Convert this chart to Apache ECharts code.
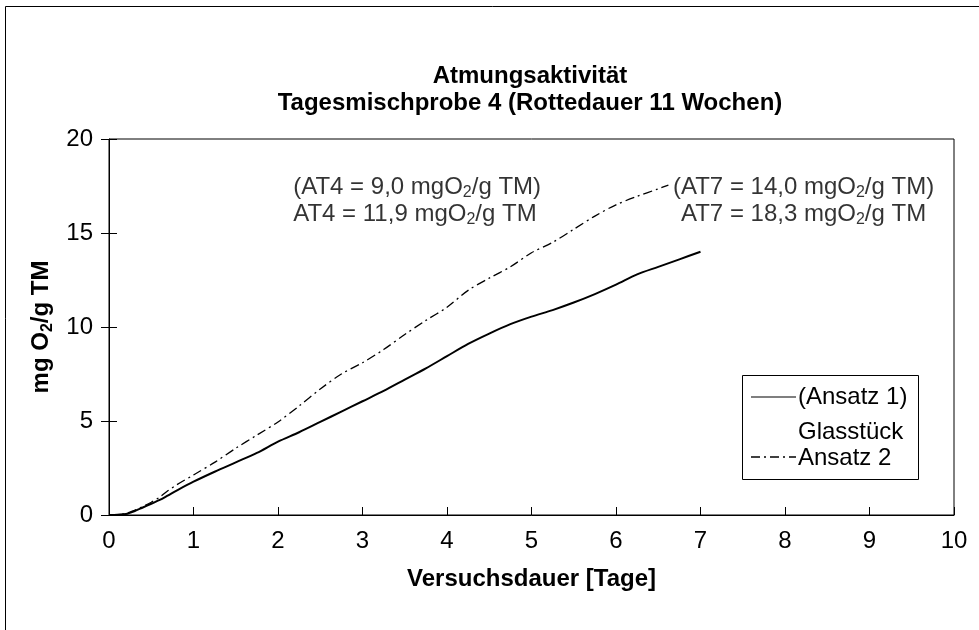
<!DOCTYPE html>
<html><head><meta charset="utf-8">
<script src="https://cdn.jsdelivr.net/npm/echarts@6/dist/echarts.min.js"></script>
<style>html,body{margin:0;padding:0;background:#fff}#c{width:979px;height:630px}</style>
</head><body><div id="c"></div>
<script>
const titleLines = ['Atmungsaktivität', 'Tagesmischprobe 4 (Rottedauer 11 Wochen)'];
const xTicks = [0, 1, 2, 3, 4, 5, 6, 7, 8, 9, 10];
const yTicks = [0, 5, 10, 15, 20];
const seriesNames = ['(Ansatz 1)\nGlasstück', 'Ansatz 2'];
const ansatz1X = [0,0.1,0.2,0.3,0.4,0.5,0.6,0.7,0.8,1.0,1.25,1.5,1.75,2.0,2.25,2.5,2.75,3.0,3.25,3.5,3.75,4.0,4.25,4.5,4.75,5.0,5.25,5.5,5.75,6.0,6.25,6.5,6.75,7.0];
const ansatz1Y = [0,0.02,0.05,0.2,0.4,0.6,0.8,1.05,1.3,1.77,2.3,2.8,3.3,3.9,4.4,4.95,5.5,6.05,6.6,7.2,7.8,8.45,9.1,9.65,10.15,10.55,10.9,11.3,11.75,12.25,12.8,13.2,13.6,14.0];
const ansatz2X = [0,0.1,0.2,0.3,0.4,0.5,0.6,0.7,0.8,1.0,1.25,1.5,1.75,2.0,2.25,2.5,2.75,3.0,3.25,3.5,3.75,4.0,4.25,4.5,4.75,5.0,5.25,5.5,5.75,6.0,6.25,6.5,6.62];
const ansatz2Y = [0,0.02,0.08,0.25,0.45,0.68,0.95,1.3,1.6,2.13,2.8,3.55,4.25,4.95,5.8,6.7,7.5,8.1,8.8,9.6,10.35,11.05,11.95,12.6,13.2,13.95,14.5,15.2,15.9,16.5,16.95,17.35,17.55];
const annotations = [
  {x: 2.18, y: 16.73, lines: [['(AT4 = 9,0 mgO', '2', '/g TM)'], ['AT4 = 11,9 mgO', '2', '/g TM']], align: 'left'},
  {x: 8.22, y: 16.73, lines: [['(AT7 = 14,0 mgO', '2', '/g TM)'], ['AT7 = 18,3 mgO', '2', '/g TM']], align: 'center'}
];
const legendItems = ['(Ansatz 1)', 'Glasstück', 'Ansatz 2'];

const FONT = 'Liberation Sans, Arial, sans-serif';
const chart = echarts.init(document.getElementById('c'), null, {renderer: 'canvas'});

function richText(lines) {
  return lines.map(l => l[0] + '{s|' + l[1] + '}' + l[2]).join('\n');
}

const annoSeries = annotations.map((a, i) => ({
  type: 'scatter', data: [[a.x, a.y]], symbolSize: 0, silent: true,
  label: {
    show: true, position: 'inside', formatter: richText(a.lines),
    align: a.align, verticalAlign: 'middle',
    color: '#000', fontFamily: FONT, fontSize: 24, lineHeight: 27,
    rich: {s: {fontSize: 16, fontFamily: FONT, color: '#000', lineHeight: 27, padding: [12, 0, 0, 0]}}
  }
}));

const legX = 742, legY = 375;
chart.setOption({
  animation: false,
  backgroundColor: '#fff',
  title: {
    text: titleLines.join('\n'), left: 525, top: 58, textAlign: 'center',
    textStyle: {fontFamily: FONT, fontSize: 24, fontWeight: 'bold', color: '#000', lineHeight: 27}
  },
  grid: {left: 109, right: 25, top: 139, bottom: 115, show: true, borderColor: '#000', borderWidth: 1, backgroundColor: 'transparent'},
  xAxis: {
    type: 'value', min: 0, max: 10, interval: 1,
    name: 'Versuchsdauer [Tage]', nameLocation: 'middle', nameGap: 52,
    nameTextStyle: {fontFamily: FONT, fontSize: 24, fontWeight: 'bold', color: '#000'},
    axisLine: {lineStyle: {color: '#000', width: 1}},
    axisTick: {inside: true, length: 8, lineStyle: {color: '#000'}},
    axisLabel: {color: '#000', fontFamily: FONT, fontSize: 24, margin: 14, formatter: v => String(v)},
    splitLine: {show: false}
  },
  yAxis: [{
    type: 'value', min: 0, max: 20, interval: 5,
    name: 'mg O{s|2}/g TM', nameLocation: 'middle', nameGap: 52, nameRotate: 90,
    nameTextStyle: {fontFamily: FONT, fontSize: 24, fontWeight: 'bold', color: '#000', lineHeight: 27,
      rich: {s: {fontFamily: FONT, fontSize: 16, fontWeight: 'bold', color: '#000', lineHeight: 27, padding: [12, 0, 0, 0]}}},
    axisLine: {lineStyle: {color: '#000', width: 1}},
    axisTick: {inside: true, length: 8, lineStyle: {color: '#000'}},
    axisLabel: {color: '#000', fontFamily: FONT, fontSize: 24, margin: 16},
    splitLine: {show: false}
  }, {
    type: 'value', min: 0, max: 20, interval: 5, position: 'left',
    axisLine: {show: false},
    axisTick: {show: true, inside: false, length: 8, lineStyle: {color: '#000'}},
    axisLabel: {show: false}, splitLine: {show: false}
  }],
  series: [
    {name: seriesNames[0], type: 'line', showSymbol: false, symbol: 'none', smooth: 0.3,
     data: ansatz1X.map((x, i) => [x, ansatz1Y[i]]),
     lineStyle: {color: '#000', width: 2}},
    {name: seriesNames[1], type: 'line', showSymbol: false, symbol: 'none', smooth: 0.3,
     data: ansatz2X.map((x, i) => [x, ansatz2Y[i]]),
     lineStyle: {color: '#000', width: 1.3, type: [9, 4, 2, 4]}},
    ...annoSeries
  ],
  graphic: [
    {type: 'rect', shape: {x: 5.5, y: 6.5, width: 1000, height: 700}, style: {fill: 'none', stroke: '#000', lineWidth: 1}, silent: true, z: 100},
    {type: 'rect', shape: {x: legX + 0.5, y: legY + 0.5, width: 176, height: 104}, style: {fill: '#fff', stroke: '#000', lineWidth: 1}, z: 50},
    {type: 'line', shape: {x1: 751, y1: 397, x2: 796, y2: 397}, style: {stroke: '#000', lineWidth: 1.2}, z: 51},
    {type: 'line', shape: {x1: 751, y1: 457, x2: 796, y2: 457}, style: {stroke: '#000', lineWidth: 1.3, lineDash: [9, 4, 2, 4]}, z: 51},
    {type: 'text', x: 798, y: 397, style: {text: legendItems[0], font: '24px ' + FONT, fill: '#000', textVerticalAlign: 'middle'}, z: 51},
    {type: 'text', x: 798, y: 432, style: {text: legendItems[1], font: '24px ' + FONT, fill: '#000', textVerticalAlign: 'middle'}, z: 51},
    {type: 'text', x: 798, y: 458, style: {text: legendItems[2], font: '24px ' + FONT, fill: '#000', textVerticalAlign: 'middle'}, z: 51}
  ]
});
</script></body></html>
